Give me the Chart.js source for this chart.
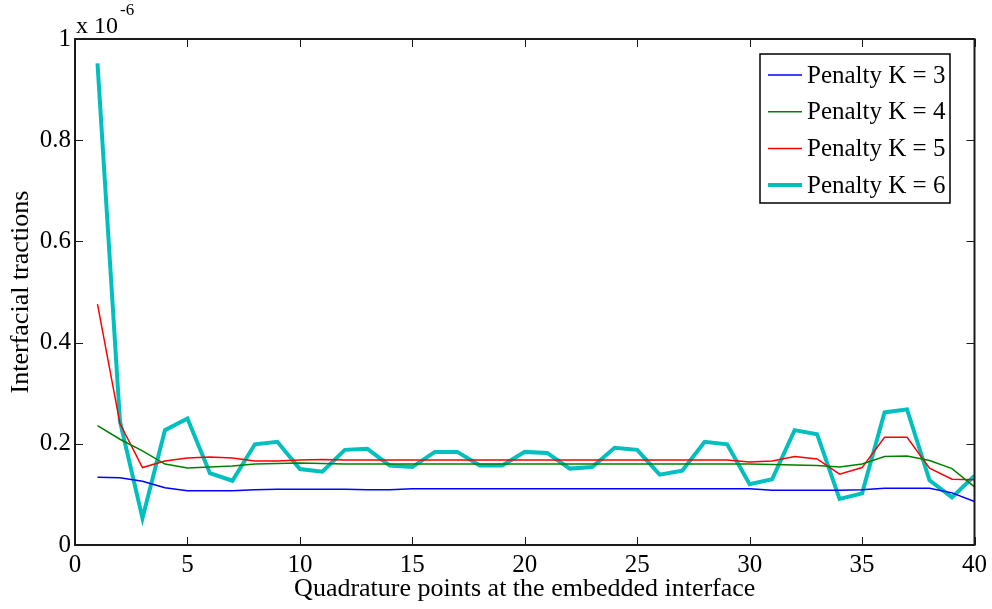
<!DOCTYPE html>
<html>
<head>
<meta charset="utf-8">
<script src="https://cdn.jsdelivr.net/npm/chart.js@4.4.1/dist/chart.umd.min.js"></script>
<style>
  html, body { margin: 0; padding: 0; background: #fff; }
  #wrap { width: 992px; height: 609px; }
</style>
</head>
<body>
<div id="wrap"><canvas id="myChart" width="992" height="609"></canvas></div>
<script>
// Quadrature point index along the interface
const points = [1, 2, 3, 4, 5, 6, 7, 8, 9, 10, 11, 12, 13, 14, 15, 16, 17, 18, 19, 20,
                21, 22, 23, 24, 25, 26, 27, 28, 29, 30, 31, 32, 33, 34, 35, 36, 37, 38, 39, 40];

// Interfacial tractions (x 1e-6) for each penalty value
const penaltyK3 = [0.134, 0.133, 0.126, 0.113, 0.107, 0.107, 0.107, 0.109, 0.110, 0.110,
                   0.110, 0.110, 0.109, 0.109, 0.111, 0.111, 0.111, 0.111, 0.111, 0.111,
                   0.111, 0.111, 0.111, 0.111, 0.111, 0.111, 0.111, 0.111, 0.111, 0.111,
                   0.108, 0.108, 0.108, 0.108, 0.109, 0.112, 0.112, 0.112, 0.103, 0.086];
const penaltyK4 = [0.236, 0.209, 0.186, 0.160, 0.152, 0.154, 0.156, 0.160, 0.161, 0.162,
                   0.161, 0.160, 0.160, 0.160, 0.160, 0.160, 0.160, 0.160, 0.160, 0.160,
                   0.160, 0.160, 0.160, 0.160, 0.160, 0.160, 0.160, 0.160, 0.160, 0.160,
                   0.159, 0.158, 0.157, 0.154, 0.160, 0.175, 0.176, 0.167, 0.151, 0.115];
const penaltyK5 = [0.476, 0.240, 0.153, 0.166, 0.172, 0.174, 0.172, 0.166, 0.166, 0.168,
                   0.169, 0.168, 0.168, 0.168, 0.168, 0.168, 0.168, 0.168, 0.168, 0.168,
                   0.168, 0.168, 0.168, 0.168, 0.168, 0.168, 0.168, 0.168, 0.168, 0.164,
                   0.166, 0.175, 0.170, 0.140, 0.153, 0.213, 0.213, 0.152, 0.130, 0.129];
const penaltyK6 = [0.952, 0.244, 0.053, 0.227, 0.250, 0.142, 0.127, 0.199, 0.204, 0.150,
                   0.145, 0.188, 0.190, 0.157, 0.154, 0.184, 0.184, 0.157, 0.157, 0.184,
                   0.182, 0.151, 0.154, 0.192, 0.188, 0.139, 0.147, 0.204, 0.199, 0.120,
                   0.130, 0.227, 0.219, 0.091, 0.102, 0.262, 0.268, 0.128, 0.094, 0.137];

const seriesLabels = ['Penalty K = 3', 'Penalty K = 4', 'Penalty K = 5', 'Penalty K = 6'];
const xTicks = [0, 5, 10, 15, 20, 25, 30, 35, 40];
const yTicks = [0, 0.2, 0.4, 0.6, 0.8, 1];

const FONT = '"Liberation Serif", "DejaVu Serif", serif';

function toXY(values) {
    return values.map((v, i) => ({ x: points[i], y: v }));
}

function series(label, values, color, width) {
    return {
        label: label,
        data: toXY(values),
        borderColor: color,
        backgroundColor: color,
        borderWidth: width,
        pointRadius: 0,
        tension: 0,
        fill: false
    };
}

// Box, inward ticks, exponent and legend drawn the MATLAB way
const matlabFrame = {
    id: 'matlabFrame',
    afterDraw(chart) {
        const ctx = chart.ctx;
        const a = chart.chartArea;
        const xs = chart.scales.x;
        const ys = chart.scales.y;
        const tick = 8;

        ctx.save();
        ctx.strokeStyle = '#1a1a1a';
        ctx.lineWidth = 1;
        ctx.beginPath();
        xTicks.forEach(v => {
            const px = Math.round(xs.getPixelForValue(v)) + 0.5;
            ctx.moveTo(px, a.bottom); ctx.lineTo(px, a.bottom - tick);
            ctx.moveTo(px, a.top); ctx.lineTo(px, a.top + tick);
        });
        yTicks.forEach(v => {
            const py = Math.round(ys.getPixelForValue(v)) + 0.5;
            ctx.moveTo(a.left, py); ctx.lineTo(a.left + tick, py);
            ctx.moveTo(a.right, py); ctx.lineTo(a.right - tick, py);
        });
        ctx.stroke();

        ctx.lineWidth = 2;
        ctx.strokeRect(a.left, a.top, a.right - a.left, a.bottom - a.top);

        // exponent label
        ctx.fillStyle = '#000';
        ctx.textBaseline = 'alphabetic';
        ctx.textAlign = 'left';
        ctx.font = '24px ' + FONT;
        ctx.fillText('x 10', a.left + 1, a.top - 6);
        const w = ctx.measureText('x 10').width;
        ctx.font = '17px ' + FONT;
        ctx.fillText('-6', a.left + 3 + w, a.top - 24);

        // legend box
        const lx = 760, ly = 54, lw = 190, lh = 149;
        ctx.fillStyle = '#fff';
        ctx.fillRect(lx, ly, lw, lh);
        ctx.lineWidth = 1.5;
        ctx.strokeStyle = '#000';
        ctx.strokeRect(lx, ly, lw, lh);
        ctx.font = '25px ' + FONT;
        ctx.textBaseline = 'middle';
        chart.data.datasets.forEach((ds, i) => {
            const cy = 75 + i * 36.7;
            ctx.strokeStyle = ds.borderColor;
            ctx.lineWidth = ds.borderWidth;
            ctx.beginPath();
            ctx.moveTo(lx + 8, cy);
            ctx.lineTo(lx + 42, cy);
            ctx.stroke();
            ctx.fillStyle = '#000';
            ctx.fillText(ds.label, lx + 47, cy + 1);
        });
        ctx.restore();
    }
};

const config = {
    type: 'line',
    data: {
        datasets: [
            series(seriesLabels[0], penaltyK3, '#0000ff', 1.5),
            series(seriesLabels[1], penaltyK4, '#008000', 1.5),
            series(seriesLabels[2], penaltyK5, '#ff0000', 1.5),
            series(seriesLabels[3], penaltyK6, '#00bfbf', 4)
        ]
    },
    options: {
        responsive: false,
        animation: false,
        layout: { padding: { top: 39, right: 17, left: 0, bottom: 0 } },
        plugins: {
            legend: { display: false },
            tooltip: { enabled: false }
        },
        scales: {
            x: {
                type: 'linear',
                min: 0,
                max: 40,
                afterBuildTicks: s => { s.ticks = xTicks.map(v => ({ value: v })); },
                afterFit: s => { s.height = 64; },
                grid: { display: false, drawTicks: false },
                border: { display: false },
                ticks: { color: '#000', font: { family: FONT, size: 25 }, padding: 5, maxRotation: 0 },
                title: {
                    display: true,
                    text: 'Quadrature points at the embedded interface',
                    color: '#000',
                    font: { family: FONT, size: 26 },
                    padding: { top: 0, bottom: 4 }
                }
            },
            y: {
                min: 0,
                max: 1,
                afterBuildTicks: s => { s.ticks = yTicks.map(v => ({ value: v })); },
                afterFit: s => { s.width = 75; },
                grid: { display: false, drawTicks: false },
                border: { display: false },
                ticks: {
                    color: '#000',
                    font: { family: FONT, size: 25 },
                    padding: 4,
                    callback: v => String(Math.round(v * 10) / 10)
                },
                title: {
                    display: true,
                    text: 'Interfacial tractions',
                    color: '#000',
                    font: { family: FONT, size: 26 },
                    padding: { top: 6, bottom: 0 }
                }
            }
        }
    },
    plugins: [matlabFrame]
};

const myChart = new Chart(document.getElementById('myChart'), config);
</script>
</body>
</html>
